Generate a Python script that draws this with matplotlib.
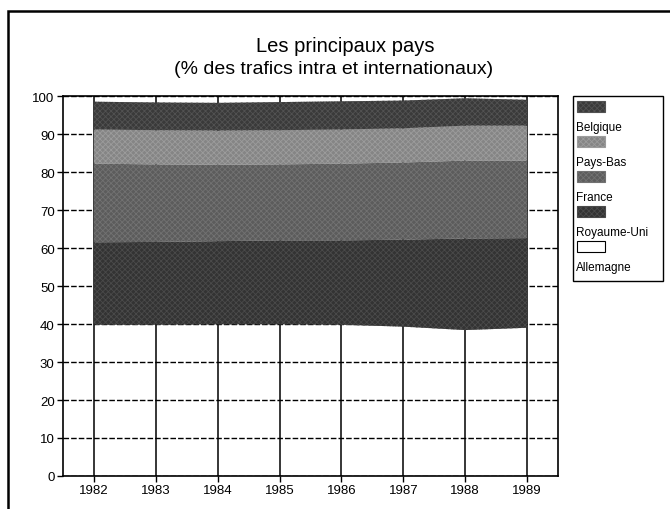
import matplotlib
matplotlib.use("Agg")
import matplotlib.pyplot as plt
from matplotlib.patches import Rectangle
import numpy as np

plt.rcParams["font.family"] = ["Liberation Sans", "DejaVu Sans"]
plt.rcParams["hatch.linewidth"] = 0.6

# data (share of traffic, %)
years = [1982, 1983, 1984, 1985, 1986, 1987, 1988, 1989]
allemagne    = [39.8, 39.8, 39.9, 39.9, 39.8, 39.3, 38.4, 39.0]
royaume_uni  = [21.7, 21.8, 21.9, 22.1, 22.2, 22.9, 24.1, 23.6]
france       = [20.7, 20.4, 20.1, 20.0, 20.2, 20.3, 20.5, 20.4]
pays_bas     = [9.0, 9.0, 9.0, 9.0, 9.0, 9.0, 9.2, 9.2]
belgique     = [7.3, 7.3, 7.3, 7.4, 7.4, 7.3, 7.2, 6.8]

# (label, values, face, hatch colour), bottom to top
LAYERS = [
    ("Allemagne",   allemagne,   None,      None),
    ("Royaume-Uni", royaume_uni, "#333333", "#4a4a4a"),
    ("France",      france,      "#5c5c5c", "#727272"),
    ("Pays-Bas",    pays_bas,    "#858585", "#9c9c9c"),
    ("Belgique",    belgique,    "#3a3a3a", "#525252"),
]

W, H = 670, 510
fig = plt.figure(figsize=(W / 100, H / 100), dpi=100)
ax = fig.add_axes([63 / W, 1 - 477 / H, (558 - 63) / W, (477 - 97) / H])

base = np.zeros(len(years))
for label, vals, face, hcol in LAYERS:
    top = base + np.array(vals)
    if face is not None:
        ax.fill_between(years, base, top, facecolor=face, edgecolor=hcol,
                        hatch="xxxxxx", linewidth=0, zorder=2)
    base = top

ax.set_xlim(1981.5, 1989.5)
ax.set_ylim(0, 100)
ax.set_xticks(years)
ax.set_yticks(range(0, 101, 10))
ax.tick_params(labelsize=9.5, length=4, width=1, pad=2, color="black")
for s in ax.spines.values():
    s.set_linewidth(1.2)

ax.set_axisbelow(True)
ax.yaxis.grid(True, color="black", linestyle=(0, (4, 1.5)), linewidth=1.0)
ax.xaxis.grid(True, color="black", linestyle="-", linewidth=1.1)

fig.text(345 / W, 1 - 47 / H, "Les principaux pays", ha="center", va="center",
         fontsize=14.5)
fig.text(334 / W, 1 - 70 / H, "(% des trafics intra et internationaux)",
         ha="center", va="center", fontsize=14)

# legend: patch above each label, drawn by hand to keep that layout
fig.patches.append(Rectangle((573 / W, 1 - 282 / H), 90 / W, 185 / H,
                             transform=fig.transFigure, facecolor="white",
                             edgecolor="black", linewidth=1.0))
for i, (label, vals, face, hcol) in enumerate(reversed(LAYERS)):
    y0 = 102 + 35 * i
    fig.patches.append(Rectangle((577 / W, 1 - (y0 + 11) / H), 28 / W, 11 / H,
                                 transform=fig.transFigure,
                                 facecolor=face if face else "white",
                                 edgecolor="black" if face is None else hcol,
                                 hatch=None if face is None else "xxxxxx",
                                 linewidth=0.8))
    fig.text(576 / W, 1 - (y0 + 26) / H, label, ha="left", va="center",
             fontsize=8.5)

# outer frame, open on the right and bottom edges
fig.patches.append(Rectangle((8 / W, -0.05), 1.0, 1 - 12 / H + 0.05,
                             transform=fig.transFigure, facecolor="none",
                             edgecolor="black", linewidth=1.8))

fig.savefig("out.png", dpi=100)
